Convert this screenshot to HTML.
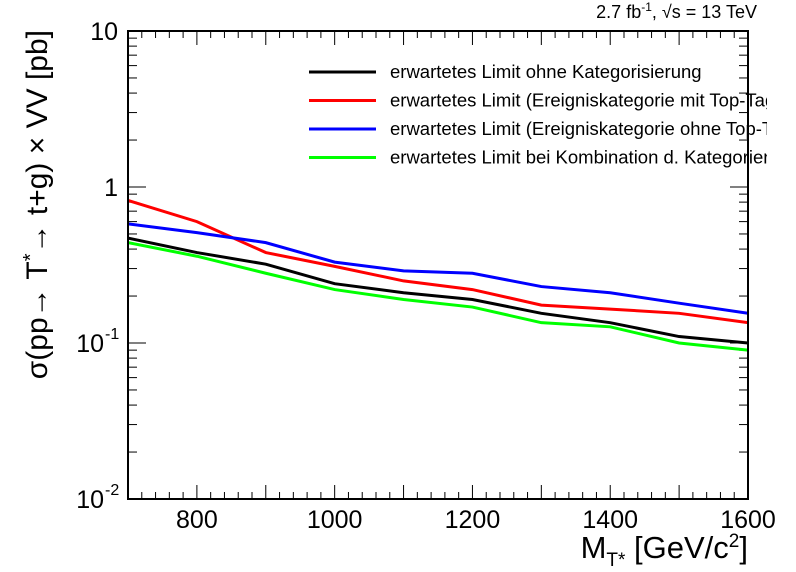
<!DOCTYPE html>
<html><head><meta charset="utf-8"><style>
body{margin:0;background:#fff;}
svg{display:block;font-family:"Liberation Sans",sans-serif;}
</style></head><body>
<svg id="c" width="796" height="572">
<defs><clipPath id="lc"><rect x="0" y="0" width="767" height="572"/></clipPath><clipPath id="pc"><rect x="128" y="31" width="620" height="468"/></clipPath></defs>
<g id="ticks"></g>
<g id="series" clip-path="url(#pc)"></g>
<rect x="128" y="31" width="620" height="468" fill="none" stroke="#000" stroke-width="2"/>
<text x="757" y="18" font-size="18" text-anchor="end">2.7 fb<tspan dy="-7" font-size="12">-1</tspan><tspan dy="7">,  √s = 13 TeV</tspan></text>
<text x="748" y="558" font-size="31" text-anchor="end">M<tspan dy="8" font-size="19">T*</tspan><tspan dy="-8"> [GeV/c</tspan><tspan dy="-11" font-size="19">2</tspan><tspan dy="11">]</tspan></text>
<text transform="translate(47,30) rotate(-90)" font-size="30" text-anchor="end">σ(pp→ T<tspan dy="-10" font-size="20">*</tspan><tspan dy="10">→ t+g) × VV [pb]</tspan></text>
<g id="legend" clip-path="url(#lc)"></g>
</svg>
<script>
const masses=[700,800,900,1000,1100,1200,1300,1400,1500,1600];
const expNoCat=[0.47,0.38,0.32,0.24,0.21,0.19,0.155,0.135,0.11,0.1];
const expTopTag=[0.82,0.6,0.38,0.31,0.25,0.22,0.175,0.165,0.155,0.135];
const expNoTopTag=[0.58,0.51,0.44,0.33,0.29,0.28,0.23,0.21,0.18,0.155];
const expComb=[0.44,0.36,0.28,0.22,0.19,0.17,0.135,0.127,0.1,0.09];
const seriesNames=["erwartetes Limit ohne Kategorisierung","erwartetes Limit (Ereigniskategorie mit Top-Tag)","erwartetes Limit (Ereigniskategorie ohne Top-Tag)","erwartetes Limit bei Kombination d. Kategorien"];
const seriesColors=["#000","#f00","#00f","#0f0"];
const xTicks=[800,1000,1200,1400,1600];
const NS="http://www.w3.org/2000/svg";
const X=v=>128+(v-700)/900*620;
const Y=v=>499-(Math.log10(v)+2)*156;
function mk(t,a,p){const e=document.createElementNS(NS,t);for(const k in a)e.setAttribute(k,a[k]);p.appendChild(e);return e;}
const tg=document.getElementById('ticks');
for(let v=700;v<=1600;v+=20){const x=X(v);const big=(v%100===0);const l=big?14:7;
 const t=mk('line',{x1:x,x2:x,y1:499,y2:499-l,stroke:'#000','stroke-width':1},tg);
 
 const t2=mk('line',{x1:x,x2:x,y1:31,y2:31+l,stroke:'#000','stroke-width':1},tg);
 }
xTicks.forEach(v=>{const t=mk('text',{x:X(v),y:528,'font-size':25,'text-anchor':'middle'},tg);t.textContent=v;
 });
for(let d=-2;d<1;d++)for(let m=1;m<=10;m++){const v=m*Math.pow(10,d);const y=Y(v);const l=m===1||m===10?18:9;
 const t=mk('line',{x1:128,x2:128+l,y1:y,y2:y,stroke:'#000'},tg);
 const t2=mk('line',{x1:748,x2:748-l,y1:y,y2:y,stroke:'#000'},tg);}
const yl=[[10,'10'],[1,'1']];
yl.forEach(([v,s])=>{const t=mk('text',{x:118,y:Y(v)+9,'font-size':25,'text-anchor':'end'},tg);t.textContent=s;});
[[0.1,'-1'],[0.01,'-2']].forEach(([v,e])=>{const t=mk('text',{x:104,y:Y(v)+9,'font-size':25,'text-anchor':'end'},tg);t.textContent='10';
 const s=mk('text',{x:105,y:Y(v)-4,'font-size':16},tg);s.textContent=e;});
const sg=document.getElementById('series');const lg=document.getElementById('legend');
[expNoCat,expTopTag,expNoTopTag,expComb].forEach((arr,i)=>{
 const p=mk('polyline',{points:arr.map((v,j)=>X(masses[j])+','+Y(v)).join(' '),fill:'none',stroke:seriesColors[i],'stroke-width':3},sg);
 
 const ly=72+i*28.5;
 const ll=mk('line',{x1:309,x2:376,y1:ly,y2:ly,stroke:seriesColors[i],'stroke-width':3},lg);
 
 const lt=mk('text',{x:390,y:ly+6,'font-size':18.5},lg);lt.textContent=seriesNames[i];
 });
</script>
</body></html>
